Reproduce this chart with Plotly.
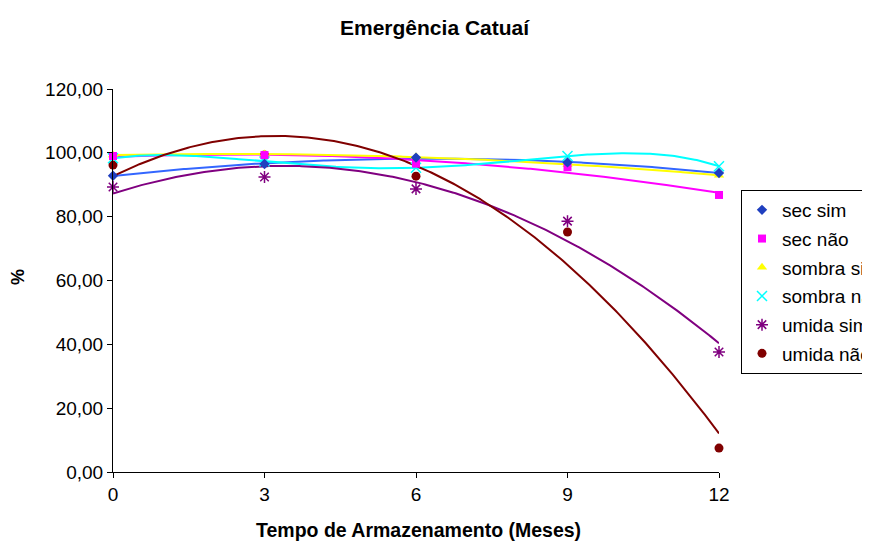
import numpy as np
import plotly.graph_objects as go

months = [0, 3, 6, 9, 12]
series_names = ["sec sim", "sec não", "sombra sim", "sombra não", "umida sim", "umida não"]
sec_sim = [92.8, 96.5, 98.5, 97.0, 93.7]
sec_nao = [99.0, 99.3, 96.6, 95.5, 86.8]
sombra_sim = [99.3, 99.6, 98.8, 96.3, 93.0]
sombra_nao = [98.3, 97.3, 95.3, 99.0, 95.8]
umida_sim = [89.3, 92.4, 88.7, 78.6, 37.6]
umida_nao = [96.2, 99.3, 92.7, 75.2, 7.5]
trend_orders = [2, 2, 2, 4, 2, 2]
y_tickvals = [0, 20, 40, 60, 80, 100, 120]
y_ticktext = ["0,00", "20,00", "40,00", "60,00", "80,00", "100,00", "120,00"]
x_tickvals = [0, 3, 6, 9, 12]

values = [sec_sim, sec_nao, sombra_sim, sombra_nao, umida_sim, umida_nao]
marker_colors = ["#1F3FBF", "#FF00FF", "#FFFF00", "#00FFFF", "#800080", "#800000"]
line_colors = ["#3366FF", "#FF00FF", "#FFFF00", "#00FFFF", "#800080", "#800000"]
symbols = ["diamond", "square", "triangle-up", "x-thin-open", "asterisk-open", "circle"]
sizes = [8, 8, 9, 10, 10, 9]

font = "Liberation Sans, Arial, sans-serif"
fig = go.Figure()

xs = np.linspace(0, 12, 300)
for i, ys in enumerate(values):
    coef = np.polyfit(months, ys, trend_orders[i])
    fig.add_trace(go.Scatter(x=xs, y=np.polyval(coef, xs), mode="lines",
                             line=dict(color=line_colors[i], width=2),
                             showlegend=False, hoverinfo="skip"))

for i in reversed(range(len(values))):
    open_sym = symbols[i].endswith("open")
    mk = dict(symbol=symbols[i], size=sizes[i], color=marker_colors[i])
    if open_sym:
        mk["line"] = dict(color=marker_colors[i], width=1.5)
    else:
        mk["line"] = dict(width=0)
    fig.add_trace(go.Scatter(x=months, y=values[i], mode="markers", name=series_names[i],
                             marker=mk, cliponaxis=False, legendgroup=series_names[i],
                             legendrank=i + 1))

# page body has an 8px margin, so the figure is laid out 8px up/left
L, T, PW, PH = 105, 81, 606, 383
fig.update_layout(
    width=870, height=542,
    margin=dict(l=L, r=870 - L - PW, t=T, b=542 - T - PH, autoexpand=False),
    paper_bgcolor="white", plot_bgcolor="white",
    font=dict(family=font, size=19, color="black"),
    showlegend=True,
    legend=dict(x=(733 - L) / PW, y=(T + PH - 182) / PH, xanchor="left", yanchor="top",
                bordercolor="black", borderwidth=1, bgcolor="white",
                font=dict(family=font, size=19, color="black"),
                tracegroupgap=1, traceorder="grouped"),
    xaxis=dict(range=[0, 12], tickvals=x_tickvals, showgrid=False, zeroline=False,
               showline=True, linecolor="black", linewidth=1, ticks="outside",
               ticklen=5, tickcolor="black", tickfont=dict(size=19)),
    yaxis=dict(range=[0, 120], tickvals=y_tickvals, ticktext=y_ticktext, showgrid=False,
               zeroline=False, showline=True, linecolor="black", linewidth=1,
               ticks="outside", ticklen=5, tickcolor="black", tickfont=dict(size=19)),
    annotations=[
        dict(text="<b>Emergência Catuaí</b>", xref="paper", yref="paper",
             x=(427 - L) / PW, y=(T + PH - 20) / PH, showarrow=False,
             font=dict(size=21), xanchor="center", yanchor="middle"),
        dict(text="<b>Tempo de Armazenamento (Meses)</b>", xref="paper", yref="paper",
             x=(410 - L) / PW, y=(T + PH - 522) / PH, showarrow=False,
             font=dict(size=19.5), xanchor="center", yanchor="middle"),
        dict(text="<b>%</b>", xref="paper", yref="paper", textangle=-90,
             x=(10 - L) / PW, y=(T + PH - 269) / PH, showarrow=False,
             font=dict(size=18), xanchor="center", yanchor="middle"),
    ],
)

fig.write_html("out.html")
